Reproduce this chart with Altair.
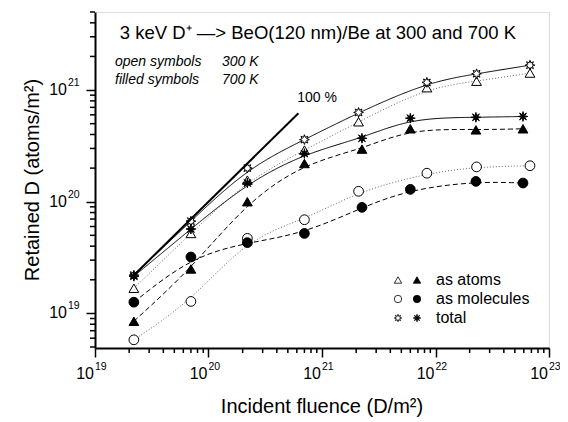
import altair as alt
import pandas as pd
import numpy as np

# ---------------- data ----------------
fluence_300 = [2.2e19, 7e19, 2.2e20, 7e20, 2.1e21, 8.4e21, 2.3e22, 6.8e22]
fluence_700 = [2.2e19, 7e19, 2.2e20, 7e20, 2.25e21, 6.0e21, 2.27e22, 5.9e22]

atoms_300 = [1.68e19, 5.2e19, 1.56e20, 2.9e20, 5.2e20, 1.05e21, 1.2e21, 1.42e21]
atoms_700 = [8.5e18, 2.5e19, 1.0e20, 2.2e20, 2.96e20, 4.5e20, 4.4e20, 4.5e20]
molecules_300 = [5.8e18, 1.28e19, 4.7e19, 6.9e19, 1.24e20, 1.8e20, 2.05e20, 2.1e20]
molecules_700 = [1.26e19, 3.2e19, 4.3e19, 5.2e19, 8.9e19, 1.29e20, 1.52e20, 1.47e20]
total_300 = [2.2e19, 6.7e19, 2.0e20, 3.6e20, 6.3e20, 1.17e21, 1.4e21, 1.67e21]
total_700 = [2.15e19, 5.7e19, 1.47e20, 2.7e20, 3.7e20, 5.6e20, 5.7e20, 5.8e20]

line100_x = [2.2e19, 6.2e20]
line100_y = [2.2e19, 6.2e20]

x_major = [1e19, 1e20, 1e21, 1e22, 1e23]
x_major_exp = ["19", "20", "21", "22", "23"]
y_major = [1e19, 1e20, 1e21]
y_major_exp = ["19", "20", "21"]
x_minor = [m * 10.0 ** e for e in range(19, 23) for m in range(2, 10)]
y_minor = [m * 10.0 ** e for e in range(18, 22) for m in range(2, 10)
           if 4.9e18 <= m * 10.0 ** e <= 5.0e21]

legend_rows = ["as atoms", "as molecules", "total"]

# ---------------- helpers ----------------
def star_path(n=8, r_in=0.45):
    pts = []
    for k in range(2 * n):
        r = 1.0 if k % 2 == 0 else r_in
        a = np.pi * k / n - np.pi / 2
        pts.append(f"{r*np.cos(a):.3f},{r*np.sin(a):.3f}")
    return "M" + " L".join(pts) + " Z"

OPEN_STAR = star_path(8, 0.5)
FILLED_STAR = star_path(8, 0.35)

FONT = "Liberation Sans"
W, H = 454, 336

xscale = alt.Scale(type="log", domain=[1e19, 1e23], nice=False)
yscale = alt.Scale(type="log", domain=[4.9e18, 5.0e21], nice=False)

def ax(values):
    return alt.Axis(title=None, values=values, labels=False, grid=False,
                    tickSize=9, tickWidth=1.5, tickColor="black",
                    domainColor="black", domainWidth=2)

series = [
    (fluence_300, atoms_300, "triangle-up", "white", [1, 2], "#666666"),
    (fluence_700, atoms_700, "triangle-up", "black", [5, 3], "black"),
    (fluence_300, molecules_300, "circle", "white", [1, 2], "#666666"),
    (fluence_700, molecules_700, "circle", "black", [5, 3], "black"),
    (fluence_300, total_300, OPEN_STAR, "white", [1, 0], "black"),
    (fluence_700, total_700, FILLED_STAR, "black", [1, 0], "black"),
]

layers = []
first = True
for xs, ys, shape, fill, dash, lcol in series:
    df = pd.DataFrame({"x": xs, "y": ys})
    base = alt.Chart(df)
    if first:
        xenc = alt.X("x:Q", scale=xscale, axis=ax(x_major))
        yenc = alt.Y("y:Q", scale=yscale, axis=ax(y_major))
        first = False
    else:
        xenc = alt.X("x:Q", scale=xscale)
        yenc = alt.Y("y:Q", scale=yscale)
    line = base.mark_line(interpolate="basis", strokeWidth=1, color=lcol,
                          strokeDash=dash).encode(x=xenc, y=yenc)
    pts = base.mark_point(shape=shape, filled=True, fill=fill, stroke="black",
                          strokeWidth=1, size=95, opacity=1).encode(x=xenc, y=yenc)
    layers += [line, pts]

df100 = pd.DataFrame({"x": line100_x, "y": line100_y})
line100 = alt.Chart(df100).mark_line(color="black", strokeWidth=2).encode(
    x=alt.X("x:Q", scale=xscale), y=alt.Y("y:Q", scale=yscale))

# minor ticks
xminor = alt.Chart(pd.DataFrame({"x": x_minor})).mark_rule(color="black", strokeWidth=1.5).encode(
    x=alt.X("x:Q", scale=xscale), y=alt.value(H), y2=alt.value(H + 5))
yminor = alt.Chart(pd.DataFrame({"y": y_minor})).mark_rule(color="black", strokeWidth=1.5).encode(
    y=alt.Y("y:Q", scale=yscale), x=alt.value(0), x2=alt.value(-5))

# tick labels (10 + superscript exponent)
xl = pd.DataFrame({"x": x_major, "e": x_major_exp, "b": ["10"] * 5})
xlab10 = alt.Chart(xl).mark_text(align="right", baseline="middle", font=FONT, fontSize=16,
                                 dx=-1, color="black").encode(
    x=alt.X("x:Q", scale=xscale), y=alt.value(H + 26), text="b:N")
xlabE = alt.Chart(xl).mark_text(align="left", baseline="middle", font=FONT, fontSize=10.5,
                                dx=0, color="black").encode(
    x=alt.X("x:Q", scale=xscale), y=alt.value(H + 19), text="e:N")
yl = pd.DataFrame({"y": y_major, "e": y_major_exp, "b": ["10"] * 3})
ylab10 = alt.Chart(yl).mark_text(align="right", baseline="middle", font=FONT, fontSize=16,
                                 color="black").encode(
    y=alt.Y("y:Q", scale=yscale), x=alt.value(-28), text="b:N")
ylabE = alt.Chart(yl).mark_text(align="left", baseline="middle", font=FONT, fontSize=10.5,
                                dy=-7, color="black").encode(
    y=alt.Y("y:Q", scale=yscale), x=alt.value(-27), text="e:N")

def txt(text, x, y, size, align="left", style="normal", weight="normal", angle=0):
    return alt.Chart(pd.DataFrame({"t": [text]})).mark_text(
        align=align, baseline="middle", font=FONT, fontSize=size, fontStyle=style,
        fontWeight=weight, color="black", angle=angle).encode(
        text="t:N", x=alt.value(x), y=alt.value(y))

annots = [
    txt("3 keV D⁺ —> BeO(120 nm)/Be at 300 and 700 K", 223, 21, 18.5, align="center"),
    txt("open symbols", 20, 50, 14, style="italic"),
    txt("300 K", 127, 50, 14, style="italic"),
    txt("filled symbols", 20, 68, 14, style="italic"),
    txt("700 K", 127, 68, 14, style="italic"),
    txt("100 %", 222, 86, 14, align="center"),
    txt("Incident fluence (D/m²)", W / 2, H + 59, 20, align="center"),
    txt("Retained D (atoms/m²)", -62, H / 2, 20, align="center", angle=270),
]

# legend
leg_y = [268, 287, 306]
leg_open = ["triangle-up", "circle", OPEN_STAR]
leg_filled = ["triangle-up", "circle", FILLED_STAR]
for lbl, yy, so, sf in zip(legend_rows, leg_y, leg_open, leg_filled):
    d = pd.DataFrame({"t": [lbl]})
    annots.append(alt.Chart(d).mark_point(shape=so, filled=True, fill="white", stroke="black",
                                          strokeWidth=0.8, size=55, opacity=1).encode(
        x=alt.value(303), y=alt.value(yy)))
    annots.append(alt.Chart(d).mark_point(shape=sf, filled=True, fill="black", stroke="black",
                                          strokeWidth=0.8, size=55, opacity=1).encode(
        x=alt.value(322), y=alt.value(yy)))
    annots.append(txt(lbl, 341, yy, 16))

chart = alt.layer(*layers, line100, xminor, yminor, xlab10, xlabE, ylab10, ylabE, *annots).properties(
    width=W, height=H,
    autosize=alt.AutoSizeParams(type="none"),
    padding={"left": 87, "top": 4, "right": 11, "bottom": 70},
).configure_view(stroke="black", strokeWidth=1.5).configure(background="white")

chart.save("out.html", embed_options={"renderer": "svg", "actions": False})
